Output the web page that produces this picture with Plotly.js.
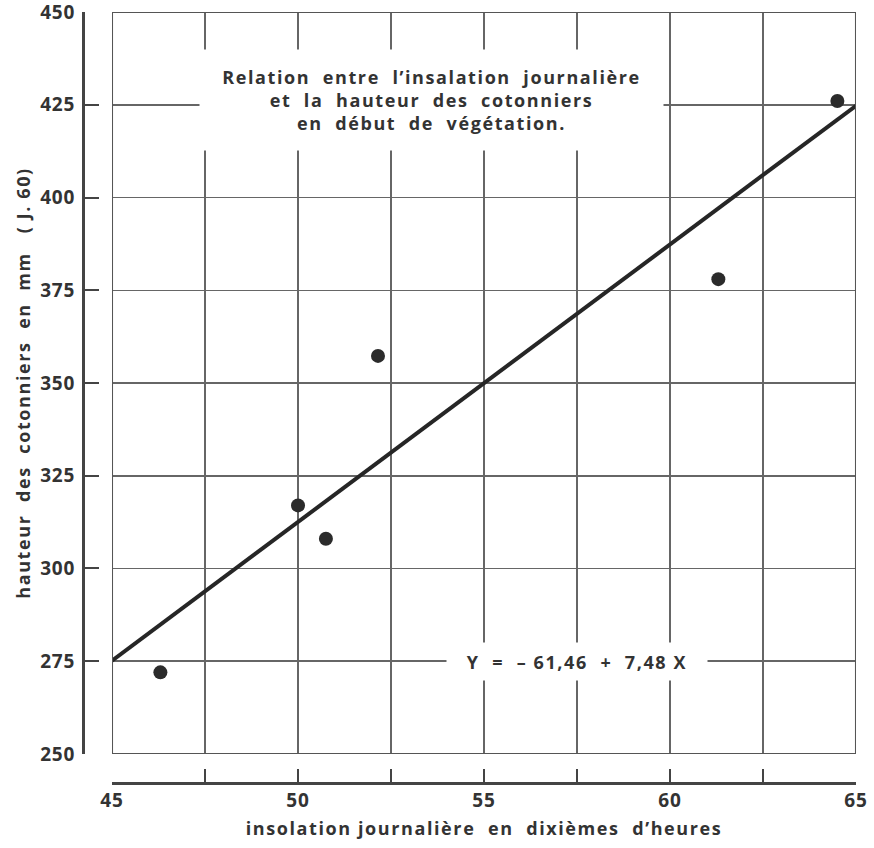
<!DOCTYPE html>
<html>
<head>
<meta charset="utf-8">
<script src="https://cdn.plot.ly/plotly-3.0.1.min.js"></script>
<style>
body{margin:0;background:#fff}
#chart{width:874px;height:848px}
#chart svg text{letter-spacing:1.6px}
#chart svg .ytick text, #chart svg .xtick text{letter-spacing:0.8px}
</style>
</head>
<body>
<div id="chart"></div>
<script>
// Observed points
const insolation = [46.3, 50.0, 50.75, 52.15, 61.3, 64.5];
const hauteur = [272, 317, 308, 357.3, 378, 426];
// Regression line endpoints (Y = -61,46 + 7,48 X)
const regX = [45, 65];
const regY = [275.14, 424.74];
// Ticks
const xTickVals = [45, 47.5, 50, 52.5, 55, 57.5, 60, 62.5, 65];
const xTickText = ['45', '', '50', '', '55', '', '60', '', '65'];
const yTickVals = [250, 275, 300, 325, 350, 375, 400, 425, 450];
const yTickText = ['250', '275', '300', '325', '350', '375', '400', '425', '450'];

const FONT = 'Open Sans, DejaVu Sans, sans-serif';
const TXT = '#333';
const W = 700;

const traces = [
  {x: regX, y: regY, type: 'scatter', mode: 'lines',
   line: {color: '#262626', width: 4}, hoverinfo: 'skip'},
  {x: insolation, y: hauteur, type: 'scatter', mode: 'markers',
   marker: {color: '#2b2b2b', size: 14}}
];

const layout = {
  width: 874, height: 848,
  margin: {l: 83, r: 18, t: 12, b: 65},
  paper_bgcolor: '#fff', plot_bgcolor: '#fff',
  showlegend: false,
  font: {family: FONT, color: TXT, size: 17, weight: W},
  xaxis: {
    range: [44.999, 65.001], domain: [0.0375, 1], anchor: 'free', position: 0,
    showline: true, linecolor: '#444', linewidth: 2.5,
    ticks: 'inside', ticklen: 13, tickwidth: 2, tickcolor: '#444',
    tickmode: 'array', tickvals: xTickVals, ticktext: xTickText,
    ticklabeloverflow: 'allow',
    showgrid: true, gridcolor: '#666', gridwidth: 1.5, zeroline: false,
    tickfont: {size: 19, family: FONT, color: TXT, weight: W},
    title: {text: 'insolation journalière  en  dixièmes  d’heures', font: {size: 18, family: FONT, color: TXT, weight: W}, standoff: 9}
  },
  yaxis: {
    range: [249.99, 450.01], domain: [0.0376, 1], anchor: 'free', position: 0,
    showline: true, linecolor: '#444', linewidth: 2.5,
    ticks: 'inside', ticklen: 14, tickwidth: 2, tickcolor: '#444',
    tickmode: 'array', tickvals: yTickVals, ticktext: yTickText,
    ticklabelstandoff: 3, ticklabeloverflow: 'allow',
    showgrid: true, gridcolor: '#666', gridwidth: 1.5, zeroline: false,
    tickfont: {size: 19, family: FONT, color: TXT, weight: W},
    title: {text: 'hauteur  des  cotonniers  en  mm   ( J. 60)', font: {size: 18, family: FONT, color: TXT, weight: W}, standoff: 6}
  },
  shapes: [
    {type: 'rect', xref: 'x', yref: 'y', x0: 45, x1: 65, y0: 250, y1: 450,
     line: {color: '#555', width: 2}, layer: 'above'}
  ],
  annotations: [
    {xref: 'x', yref: 'y', x: 53.6, y: 426.3, showarrow: false,
     text: 'Relation  entre  l’insalation  journalière<br>et  la  hauteur  des  cotonniers<br>en  début  de  végétation.',
     align: 'center', bgcolor: '#fff', width: 463, height: 100, borderpad: 0,
     font: {size: 18, family: FONT, color: TXT, weight: W}},
    {xref: 'x', yref: 'y', x: 57.5, y: 274.9, showarrow: false,
     text: 'Y  =  – 61,46  +  7,48 X', align: 'center', bgcolor: '#fff',
     width: 260, height: 37, borderpad: 0,
     font: {size: 18, family: FONT, color: TXT, weight: W}}
  ]
};

Plotly.newPlot('chart', traces, layout, {displayModeBar: false, staticPlot: true});
</script>
</body>
</html>
